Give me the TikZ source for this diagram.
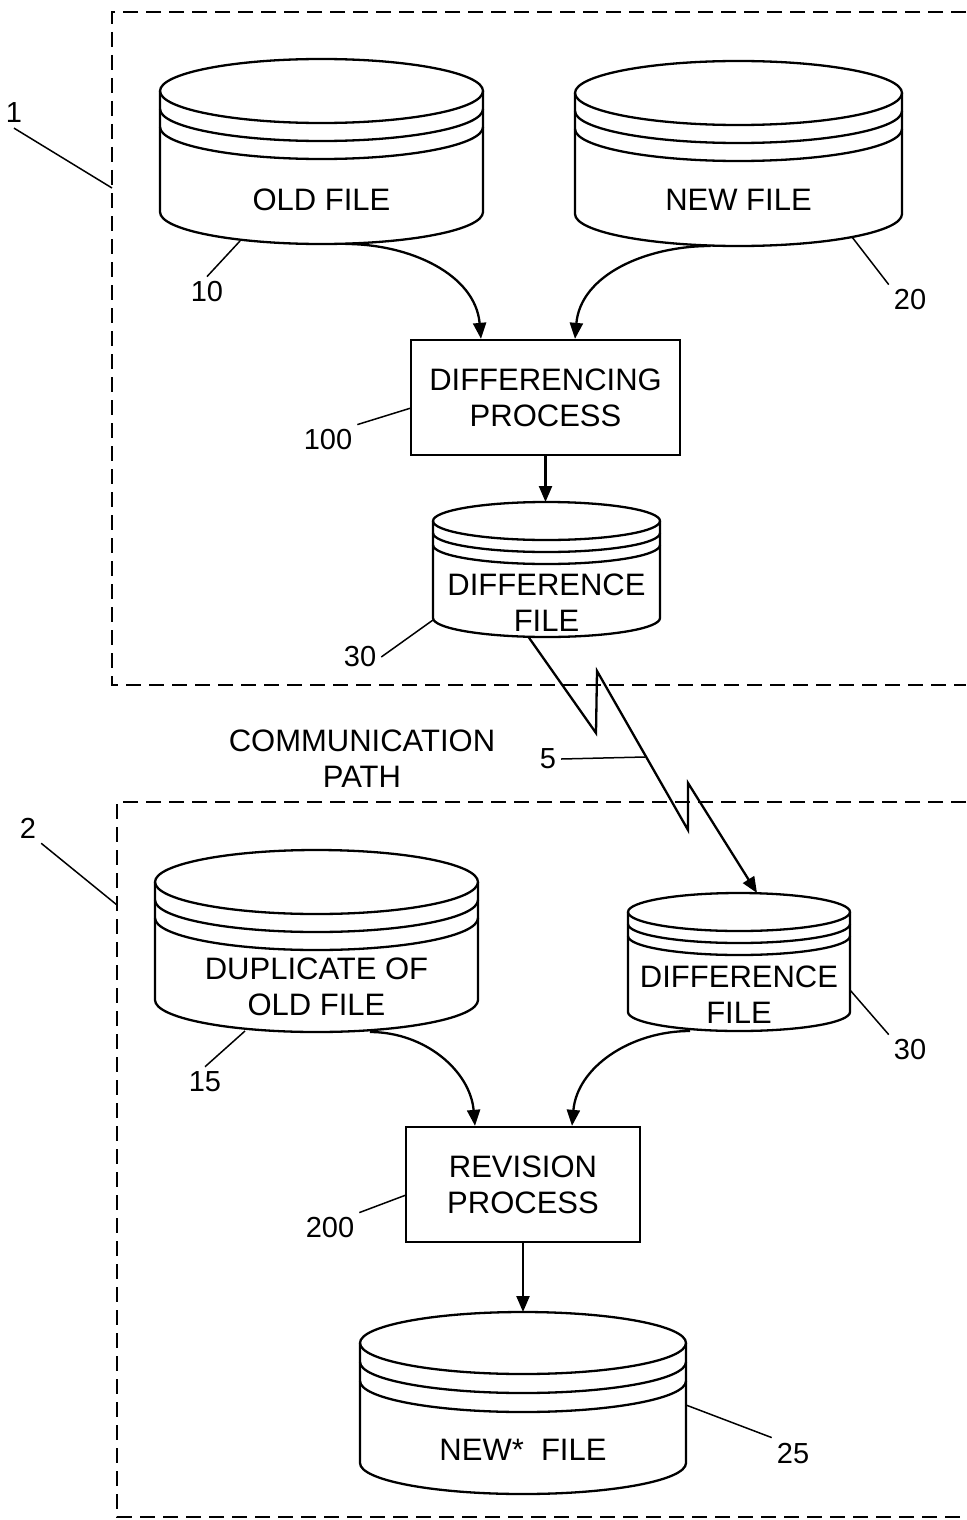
\documentclass[tikz,border=0pt]{standalone}
\usepackage{fontspec}
\setmainfont{Liberation Sans}
\usetikzlibrary{arrows.meta, positioning}

\newcommand{\filedisk}[7]{%
  \pgfmathsetmacro{\dskrx}{(#3-#2)/2}
  \pgfmathsetmacro{\dskcx}{(#3+#2)/2}
  \filldraw[fill=white] (#2,-#4) -- (#2,-#5)
    arc[start angle=180, end angle=360, x radius=\dskrx, y radius=#6] -- (#3,-#4);
  \draw (\dskcx,-#4) ellipse[x radius=\dskrx, y radius=#6];
  \draw (#2,-#4-#7) arc[start angle=180, end angle=360, x radius=\dskrx, y radius=#6];
  \draw (#2,-#4-2*#7) arc[start angle=180, end angle=360, x radius=\dskrx, y radius=#6];
  \coordinate (#1-t) at (\dskcx,-#4+#6);
  \coordinate (#1-b) at (\dskcx,-#5-#6);
}

\begin{document}
\begin{tikzpicture}[
  x=0.5pt, y=0.5pt,
  line width=1.15pt,
  font=\fontsize{15.5}{18}\selectfont,
  proc/.style={rectangle, draw, fill=white, align=center, minimum height=57.5pt},
  txt/.style={align=center, inner sep=0pt},
  num/.style={font=\fontsize{14.5}{16}\selectfont, inner sep=2pt},
  arr/.style={-{Triangle[length=8pt, width=6.5pt]}},
  lead/.style={line width=0.75pt},
  frame/.style={line width=1.2pt, dash pattern=on 7.5pt off 4pt}
]
\useasboundingbox (0,0) rectangle (966,-1520);
\draw[frame] (966,-12) -| (112,-685) -- (966,-685);
\draw[frame] (966,-802) -| (117,-1517) -- (966,-1517);

\filedisk{old}{160}{483}{91}{212}{32}{18}
\filedisk{new}{575}{902}{93}{214}{32}{18}
\filedisk{dif1}{433}{660}{521}{618}{19}{12}
\filedisk{dup}{155}{478}{882}{1000}{32}{18}
\filedisk{dif2}{628}{850}{912}{1012}{19}{12}
\filedisk{newst}{360}{686}{1343}{1463}{31}{19}

\node (oldtxt) [txt] at (321.5,-200) {OLD FILE};
\node (newtxt) [txt] at (738.5,-200) {NEW FILE};
\node (diffproc) [proc, minimum width=134.5pt] at (545.5,-397.5) {DIFFERENCING\\PROCESS};
\node (dif1txt) [txt] at (546.5,-602.5) {DIFFERENCE\\FILE};
\node (commtxt) [txt] at (362,-758.5) {COMMUNICATION\\PATH};
\node (duptxt) [txt] at (316.5,-986.5) {DUPLICATE OF\\OLD FILE};
\node (dif2txt) [txt] at (739,-994.5) {DIFFERENCE\\FILE};
\node (revproc) [proc, minimum width=117pt] at (523,-1184.5) {REVISION\\PROCESS};
\node (newsttxt) [txt] at (523,-1450) {NEW*\ \ FILE};

\draw[arr] ([xshift=12pt]old-b) to[out=0, in=95] ([xshift=-32.25pt]diffproc.north);
\draw[arr] ([xshift=-14pt]new-b) to[out=180, in=85] ([xshift=14.75pt]diffproc.north);
\draw[arr] (diffproc.south) -- (diffproc.south |- dif1-t);
\draw[arr] ([xshift=-9pt]dif1-b) -- (596,-733) -- (597,-671) -- (688,-830)
  -- (688,-783) -- ([xshift=9pt]dif2-t);
\draw[arr] ([xshift=26.75pt]dup-b) to[out=0, in=95] ([xshift=-24pt]revproc.north);
\draw[arr] ([xshift=-24.5pt]dif2-b) to[out=180, in=85] ([xshift=24.5pt]revproc.north);
\draw[arr] (revproc.south) -- (newst-t);

\node (n1) [num] at (14,-113) {1};
\node (n2) [num] at (28,-828) {2};
\node (n10) [num] at (207,-292) {10};
\node (n20) [num] at (910,-300) {20};
\node (n100) [num] at (328,-440) {100};
\node (n30a) [num] at (360,-657) {30};
\node (n5) [num] at (548,-759) {5};
\node (n15) [num] at (205,-1082) {15};
\node (n30b) [num] at (910,-1050) {30};
\node (n200) [num] at (330,-1228) {200};
\node (n25) [num] at (793,-1453) {25};

\coordinate (e1) at (112,-188);
\coordinate (e2) at (117,-905);
\coordinate (e10) at (240,-241);
\coordinate (e20) at (852,-237);
\coordinate (e100) at (411,-408);
\coordinate (e30a) at (433,-620);
\coordinate (e5) at (645,-757);
\coordinate (e15) at (245,-1031);
\coordinate (e30b) at (850,-990);
\coordinate (e200) at (406,-1195);
\coordinate (e25) at (686,-1405);

\draw[lead] (n1.south) -- (e1);
\draw[lead] (n2.south east) -- (e2);
\draw[lead] (n10.north) -- (e10);
\draw[lead] (n20.north west) -- (e20);
\draw[lead] (n100.north east) -- (e100);
\draw[lead] (n30a.east) -- (e30a);
\draw[lead] (n5.east) -- (e5);
\draw[lead] (n15.north) -- (e15);
\draw[lead] (n30b.north west) -- (e30b);
\draw[lead] (n200.north east) -- (e200);
\draw[lead] (n25.north west) -- (e25);
\end{tikzpicture}
\end{document}
